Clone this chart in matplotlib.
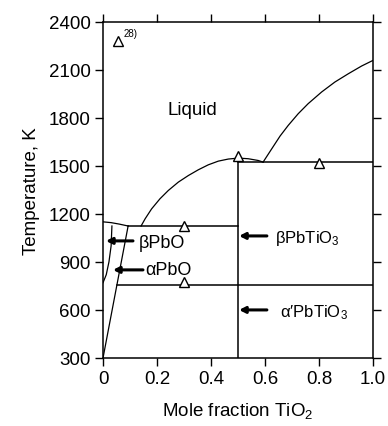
import matplotlib
matplotlib.use('Agg')
import matplotlib.pyplot as plt
import numpy as np

plt.rcParams['font.family'] = ['Liberation Sans', 'DejaVu Sans']
plt.rcParams['mathtext.fontset'] = 'custom'
plt.rcParams['mathtext.rm'] = 'Liberation Sans'
plt.rcParams['mathtext.it'] = 'Liberation Sans'

# phase boundaries (mole fraction TiO2, temperature K)
liq_left_x = [0.141, 0.156, 0.180, 0.211, 0.242, 0.279, 0.316, 0.353, 0.390,
              0.427, 0.464, 0.501, 0.538, 0.575, 0.593]
liq_left_t = [1124, 1169, 1231, 1294, 1346, 1398, 1439, 1475, 1506,
              1529, 1542, 1548, 1544, 1533, 1523]
liq_right_x = [0.593, 0.625, 0.656, 0.686, 0.723, 0.760, 0.810, 0.859,
               0.909, 0.958, 1.0]
liq_right_t = [1523, 1606, 1686, 1752, 1825, 1888, 1961, 2023,
               2075, 2123, 2158]
pbo_liq_x = [0.0, 0.03, 0.06, 0.093]
pbo_liq_t = [1150, 1145, 1136, 1124]
beta_solvus_x = [0.033, 0.030, 0.022, 0.012, 0.0]
beta_solvus_t = [1124, 1000, 900, 820, 770]
alpha_solvus_x = [0.093, 0.0]
alpha_solvus_t = [1124, 300]
eutectic_left = (0.093, 0.5, 1124)
transition = (0.052, 1.0, 757)
eutectic_right = (0.5, 1.0, 1523)
pbtio3_x = 0.5
pbtio3_top = 1548

# experimental points
exp_x = [0.055, 0.3, 0.3, 0.5, 0.8]
exp_t = [2281, 1122, 772, 1562, 1519]

xticks = [0, 0.2, 0.4, 0.6, 0.8, 1.0]
xticklabels = ['0', '0.2', '0.4', '0.6', '0.8', '1.0']
yticks = [300, 600, 900, 1200, 1500, 1800, 2100, 2400]

fig = plt.figure(figsize=(3.88, 4.27), dpi=100)
ax = fig.add_axes([0.2655, 0.1593, 0.6958, 0.7877])

lw = 0.9
ax.plot(liq_left_x, liq_left_t, color='black', lw=lw)
ax.plot(liq_right_x, liq_right_t, color='black', lw=lw)
ax.plot(pbo_liq_x, pbo_liq_t, color='black', lw=lw)
ax.plot(beta_solvus_x, beta_solvus_t, color='black', lw=lw)
ax.plot(alpha_solvus_x, alpha_solvus_t, color='black', lw=lw)
for x0, x1, t in [eutectic_left, transition, eutectic_right]:
    ax.plot([x0, x1], [t, t], color='black', lw=1.1)
ax.plot([pbtio3_x, pbtio3_x], [300, pbtio3_top], color='black', lw=1.1)

ax.plot(exp_x, exp_t, linestyle='none', marker='^', markersize=7,
        markerfacecolor='white', markeredgecolor='black', markeredgewidth=1.0)
ax.text(0.075, 2300, '28)', fontsize=7, va='bottom', ha='left')

ax.text(0.33, 1850, 'Liquid', fontsize=13.5, ha='center', va='center')

arrow = dict(arrowstyle='-|>,head_length=0.35,head_width=0.18', lw=2.2,
             color='black', shrinkA=0, shrinkB=0)
ax.annotate('', xy=(0.011, 1031), xytext=(0.111, 1031), arrowprops=arrow)
ax.text(0.133, 1020, 'βPbO', fontsize=13, ha='left', va='center')
ax.annotate('', xy=(0.037, 850), xytext=(0.148, 850), arrowprops=arrow)
ax.text(0.155, 850, 'αPbO', fontsize=13, ha='left', va='center')
ax.annotate('', xy=(0.504, 1062), xytext=(0.607, 1062), arrowprops=arrow)
ax.text(0.637, 1050, 'βPbTiO$_3$', fontsize=12, ha='left', va='center')
ax.annotate('', xy=(0.504, 600), xytext=(0.607, 600), arrowprops=arrow)
ax.text(0.656, 590, 'α′PbTiO$_3$', fontsize=12, ha='left', va='center')

ax.set_xlim(0, 1.0)
ax.set_ylim(300, 2400)
ax.set_xticks(xticks)
ax.set_xticklabels(xticklabels)
ax.set_yticks(yticks)
ax.tick_params(direction='out', length=6, width=1.0, labelsize=13.5,
               top=True, right=True, pad=3)
for s in ax.spines.values():
    s.set_linewidth(1.1)

ax.set_xlabel('Mole fraction TiO$_2$', fontsize=13.5, labelpad=9)
ax.set_ylabel('Temperature, K', fontsize=13.5, labelpad=6)

fig.savefig('out.png', dpi=100)
